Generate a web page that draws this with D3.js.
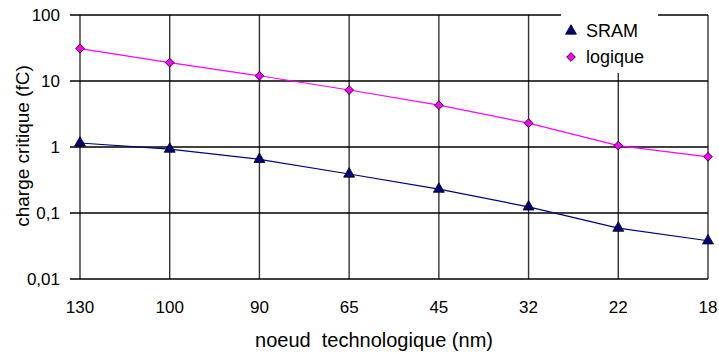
<!DOCTYPE html>
<html><head><meta charset="utf-8">
<script src="https://cdn.jsdelivr.net/npm/d3@7"></script>
<style>body{margin:0;background:#fff}svg{display:block}text{font-family:"Liberation Sans",Arial,sans-serif}</style>
</head><body>
<svg id="c" width="719" height="353"></svg>
<script>
const categories = ["130","100","90","65","45","32","22","18"];
const sram = [1.15, 0.93, 0.65, 0.39, 0.23, 0.124, 0.059, 0.038];
const logique = [31, 19, 12, 7.3, 4.3, 2.3, 1.05, 0.71];
const yTicks = [0.01, 0.1, 1, 10, 100];
const yTickLabels = ["0,01","0,1","1","10","100"];

const svg = d3.select("#c");
const L = 80, R = 708, T = 15, B = 279;
const x = d3.scalePoint().domain(categories).range([L, R]);
const y = d3.scaleLog().domain([0.01, 100]).range([B, T]);

// vertical gridlines
svg.append("g").selectAll("line").data(categories).join("line")
  .attr("x1", d => x(d)).attr("x2", d => x(d)).attr("y1", T).attr("y2", B)
  .attr("stroke", "#333").attr("stroke-width", 1.4);
// horizontal gridlines (with tick extending left)
svg.append("g").selectAll("line").data(yTicks).join("line")
  .attr("x1", L - 10).attr("x2", R).attr("y1", d => y(d)).attr("y2", d => y(d))
  .attr("stroke", "#000").attr("stroke-width", 1.4);

// y tick labels
svg.append("g").selectAll("text").data(yTicks).join("text")
  .attr("x", 60).attr("y", d => y(d)).attr("dy", "0.36em")
  .attr("text-anchor", "end").attr("font-size", 17).text((d, i) => yTickLabels[i]);
// x tick labels
svg.append("g").selectAll("text").data(categories).join("text")
  .attr("x", d => x(d)).attr("y", 307).attr("dy", "0.36em")
  .attr("text-anchor", "middle").attr("font-size", 17).text(d => d);

// axis titles
svg.append("text").attr("x", 374).attr("y", 347).attr("text-anchor", "middle")
  .attr("font-size", 20).style("white-space", "pre")
  .text("noeud  technologique (nm)");
svg.append("text").attr("transform", "translate(29,146) rotate(-90)")
  .attr("text-anchor", "middle").attr("font-size", 19).text("charge critique (fC)");

const line = d3.line().x((d, i) => x(categories[i])).y(d => y(d));
svg.append("path").datum(sram).attr("d", line).attr("fill", "none").attr("stroke", "#000080").attr("stroke-width", 1.2);
svg.append("path").datum(logique).attr("d", line).attr("fill", "none").attr("stroke", "#ff00ff").attr("stroke-width", 1.2);

const tri = d3.symbol().type(d3.symbolTriangle).size(52);
const dia = d3.symbol().type(d3.symbolSquare).size(38);
svg.append("g").selectAll("path").data(sram).join("path")
  .attr("d", tri).attr("transform", (d, i) => `translate(${x(categories[i])},${y(d)})`)
  .attr("fill", "#000080").attr("stroke", "#000").attr("stroke-width", 0.8);
svg.append("g").selectAll("path").data(logique).join("path")
  .attr("d", dia).attr("transform", (d, i) => `translate(${x(categories[i])},${y(d)}) rotate(45)`)
  .attr("fill", "#ff00ff").attr("stroke", "#000").attr("stroke-width", 0.8);

// legend
const lg = svg.append("g");
lg.append("rect").attr("x", 561).attr("y", 12).attr("width", 97).attr("height", 61).attr("fill", "#fff");
lg.append("path").attr("d", tri).attr("transform", "translate(571,31)").attr("fill", "#000080").attr("stroke", "#000").attr("stroke-width", 0.8);
lg.append("path").attr("d", dia).attr("transform", "translate(571,57) rotate(45)").attr("fill", "#ff00ff").attr("stroke", "#000").attr("stroke-width", 0.8);
lg.append("text").attr("x", 586).attr("y", 31).attr("dy", "0.36em").attr("font-size", 18).text("SRAM");
lg.append("text").attr("x", 586).attr("y", 57).attr("dy", "0.36em").attr("font-size", 18).text("logique");
</script>
</body></html>
